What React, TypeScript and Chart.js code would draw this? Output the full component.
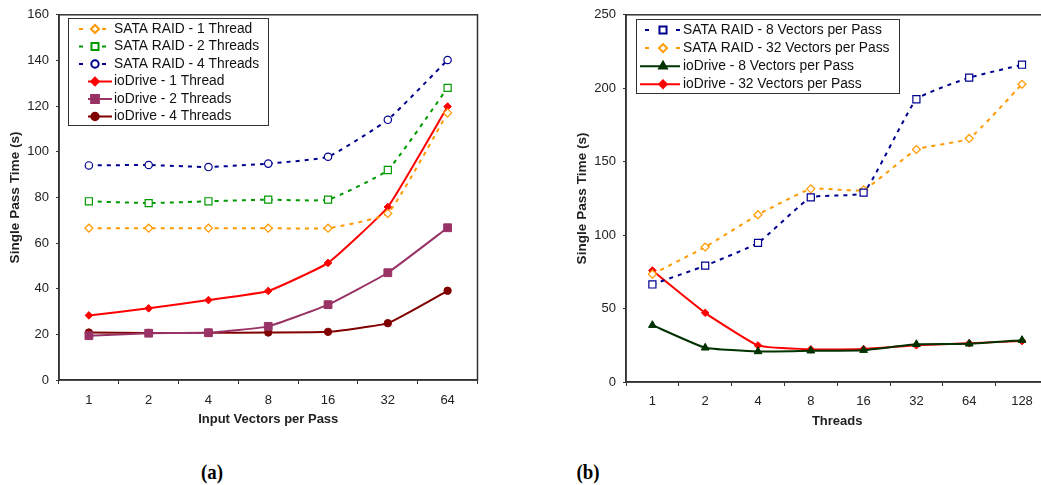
import React, { useEffect, useRef } from "react";
import { Chart, registerables } from "chart.js";
import { drawPoint } from "chart.js/helpers";

Chart.register(...registerables);

// ---------- Data: chart (a) ----------
const vectorsPerPass = ["1", "2", "4", "8", "16", "32", "64"];
const sataRaid1Thread = [66.5, 66.5, 66.5, 66.5, 66.5, 73, 117];
const sataRaid2Threads = [78.3, 77.5, 78.3, 79, 79, 92, 128];
const sataRaid4Threads = [94, 94.2, 93.3, 94.8, 97.8, 114, 140.2];
const ioDrive1Thread = [28.3, 31.4, 35, 39, 51.3, 75.8, 119.8];
const ioDrive2Threads = [19.4, 20.5, 20.7, 23.5, 33, 47, 66.7];
const ioDrive4Threads = [20.8, 20.6, 20.7, 20.8, 21.1, 24.9, 39.1];

// ---------- Data: chart (b) ----------
const threadCounts = ["1", "2", "4", "8", "16", "32", "64", "128"];
const sataRaid8Vectors = [66.4, 79.2, 94.7, 125.7, 128.9, 192.5, 207.2, 216];
const sataRaid32Vectors = [73.4, 91.9, 113.9, 131.5, 130.8, 158.3, 165.8, 202.7];
const ioDrive8Vectors = [38.7, 23.3, 20.8, 21.3, 21.7, 25.7, 26, 28.5];
const ioDrive32Vectors = [75.9, 47.1, 24.9, 22.2, 22.4, 25, 26.4, 27.9];

const FONT = "'Liberation Sans', Arial, sans-serif";
const AXIS = "#333333";
const TEXT = "#222222";
const TENSION = 0.12;

function openSeries(label: string, data: number[], color: string, style: string, r: number) {
  return {
    label,
    data,
    borderColor: color,
    borderWidth: 2,
    borderDash: [4, 5],
    pointStyle: style,
    pointRadius: r,
    pointBorderWidth: 1.2,
    pointBorderColor: color,
    pointBackgroundColor: "#ffffff",
    tension: TENSION,
  };
}
function solidSeries(label: string, data: number[], color: string, style: string, r: number) {
  return {
    label,
    data,
    borderColor: color,
    borderWidth: 2,
    borderDash: [],
    pointStyle: style,
    pointRadius: r,
    pointBorderWidth: 1,
    pointBorderColor: color,
    pointBackgroundColor: color,
    tension: TENSION,
  };
}

const framePlugin = {
  id: "frame",
  beforeDatasetsDraw(chart: any) {
    const { ctx, chartArea } = chart;
    ctx.save();
    ctx.strokeStyle = AXIS;
    ctx.lineWidth = 1.5;
    ctx.strokeRect(chartArea.left, chartArea.top, chartArea.right - chartArea.left, chartArea.bottom - chartArea.top);
    ctx.restore();
  },
};

const boxLegendPlugin = {
  id: "boxLegend",
  afterDraw(chart: any, _args: any, L: any) {
    if (!L || !L.x) return;
    const { ctx } = chart;
    ctx.save();
    ctx.fillStyle = "#ffffff";
    ctx.fillRect(L.x, L.y, L.w, L.h);
    ctx.strokeStyle = AXIS;
    ctx.lineWidth = 1;
    ctx.strokeRect(L.x + 0.5, L.y + 0.5, L.w, L.h);
    chart.data.datasets.forEach((ds: any, i: number) => {
      const cy = L.rowY + i * L.rowH;
      ctx.strokeStyle = ds.borderColor;
      ctx.lineWidth = ds.borderWidth;
      ctx.setLineDash([]);
      ctx.beginPath();
      if (ds.borderDash && ds.borderDash.length) {
        ctx.moveTo(L.dashX0, cy);
        ctx.lineTo(L.dashX0 + 4, cy);
        ctx.moveTo(L.dashX1 - 4, cy);
        ctx.lineTo(L.dashX1, cy);
      } else {
        ctx.moveTo(L.solidX0, cy);
        ctx.lineTo(L.solidX1, cy);
      }
      ctx.stroke();
      ctx.fillStyle = ds.pointBackgroundColor;
      ctx.strokeStyle = ds.pointBorderColor;
      drawPoint(ctx, { pointStyle: ds.pointStyle, radius: ds.pointRadius, borderWidth: ds.pointBorderWidth, rotation: 0 } as any, L.markerX, cy);
      ctx.fillStyle = "#111111";
      ctx.font = `13.8px ${FONT}`;
      ctx.textBaseline = "middle";
      ctx.textAlign = "left";
      ctx.fillText(ds.label, L.textX, cy);
    });
    ctx.restore();
  },
};

function buildOptions(p: {
  yMax: number; yStep: number; xTitle: string; yWidth: number; xHeight: number;
  padRight: number; yTitlePad: number; xTitlePad: number; xTickPad: number; legend: any;
}) {
  return {
    responsive: false,
    animation: false,
    devicePixelRatio: 1,
    layout: { padding: { left: 0, top: 14, right: p.padRight, bottom: 0 } },
    plugins: {
      legend: { display: false },
      tooltip: { enabled: false },
      boxLegend: p.legend,
    },
    scales: {
      x: {
        type: "category",
        offset: true,
        grid: { display: true, offset: true, drawOnChartArea: false, drawTicks: true, tickLength: 4, color: AXIS, lineWidth: 1 },
        border: { display: true, color: AXIS, width: 1.5 },
        ticks: { font: { family: FONT, size: 13 }, color: TEXT, padding: p.xTickPad, maxRotation: 0, autoSkip: false },
        title: {
          display: true, text: p.xTitle, color: TEXT,
          font: { family: FONT, size: 13, weight: "bold" },
          padding: { top: 0, bottom: p.xTitlePad },
        },
        afterFit: (s: any) => { s.height = p.xHeight; },
      },
      y: {
        min: 0,
        max: p.yMax,
        grid: { display: true, drawOnChartArea: false, drawTicks: true, tickLength: 3, color: AXIS, lineWidth: 1 },
        border: { display: true, color: AXIS, width: 1.5 },
        ticks: { stepSize: p.yStep, font: { family: FONT, size: 13 }, color: TEXT, padding: 7 },
        title: {
          display: true, text: "Single Pass Time (s)", color: TEXT,
          font: { family: FONT, size: 13.6, weight: "bold" },
          padding: { top: p.yTitlePad, bottom: 0 },
        },
        afterFit: (s: any) => { s.width = p.yWidth; },
      },
    },
  };
}

export default function App() {
  const refA = useRef<HTMLCanvasElement>(null);
  const refB = useRef<HTMLCanvasElement>(null);

  useEffect(() => {
    const chartA = new Chart(refA.current as HTMLCanvasElement, {
      type: "line",
      data: {
        labels: vectorsPerPass,
        datasets: [
          openSeries("SATA RAID - 1 Thread", sataRaid1Thread, "#FF9900", "rectRot", 4),
          openSeries("SATA RAID - 2 Threads", sataRaid2Threads, "#009900", "rect", 5),
          openSeries("SATA RAID - 4 Threads", sataRaid4Threads, "#000090", "circle", 3.7),
          solidSeries("ioDrive - 1 Thread", ioDrive1Thread, "#FF0000", "rectRot", 3.8),
          solidSeries("ioDrive - 2 Threads", ioDrive2Threads, "#993366", "rect", 5.5),
          solidSeries("ioDrive - 4 Threads", ioDrive4Threads, "#800000", "circle", 3.7),
        ] as any,
      },
      options: buildOptions({
        yMax: 160, yStep: 20, xTitle: "Input Vectors per Pass",
        yWidth: 59, xHeight: 60, padRight: 42.5, yTitlePad: 7, xTitlePad: 12.4, xTickPad: 9,
        legend: { x: 68, y: 18, w: 200, h: 107, rowY: 29, rowH: 17.5, dashX0: 79, dashX1: 106, solidX0: 88, solidX1: 112, markerX: 95, textX: 114 },
      }) as any,
      plugins: [framePlugin, boxLegendPlugin],
    });

    const chartB = new Chart(refB.current as HTMLCanvasElement, {
      type: "line",
      data: {
        labels: threadCounts,
        datasets: [
          openSeries("SATA RAID - 8 Vectors per Pass", sataRaid8Vectors, "#000090", "rect", 5),
          openSeries("SATA RAID - 32 Vectors per Pass", sataRaid32Vectors, "#FF9900", "rectRot", 4),
          solidSeries("ioDrive - 8 Vectors per Pass", ioDrive8Vectors, "#003300", "triangle", 4.5),
          solidSeries("ioDrive - 32 Vectors per Pass", ioDrive32Vectors, "#FF0000", "rectRot", 3.8),
        ] as any,
      },
      options: buildOptions({
        yMax: 250, yStep: 50, xTitle: "Threads",
        yWidth: 96, xHeight: 58, padRight: 41.6, yTitlePad: 44, xTitlePad: 10.4, xTickPad: 8,
        legend: { x: 106, y: 19, w: 263, h: 74, rowY: 30, rowH: 18.1, dashX0: 115, dashX1: 150, solidX0: 110, solidX1: 150, markerX: 133, textX: 153 },
      }) as any,
      plugins: [framePlugin, boxLegendPlugin],
    });

    return () => {
      chartA.destroy();
      chartB.destroy();
    };
  }, []);

  const caption: React.CSSProperties = {
    position: "absolute",
    top: 461,
    fontFamily: "'Liberation Serif', 'Times New Roman', serif",
    fontWeight: "bold",
    fontSize: 21,
    lineHeight: "22px",
    color: "#000",
    transform: "translateX(-50%) scaleX(0.9)",
    whiteSpace: "nowrap",
  };

  return (
    <div style={{ position: "absolute", left: 0, top: 0, width: 1041, height: 485, overflow: "hidden", background: "#fff" }}>
      <canvas ref={refA} width={520} height={440} style={{ position: "absolute", left: 0, top: 0, display: "block" }} />
      <canvas ref={refB} width={560} height={440} style={{ position: "absolute", left: 530, top: 0, display: "block" }} />
      <div style={{ ...caption, left: 212 }}>(a)</div>
      <div style={{ ...caption, left: 588 }}>(b)</div>
    </div>
  );
}
